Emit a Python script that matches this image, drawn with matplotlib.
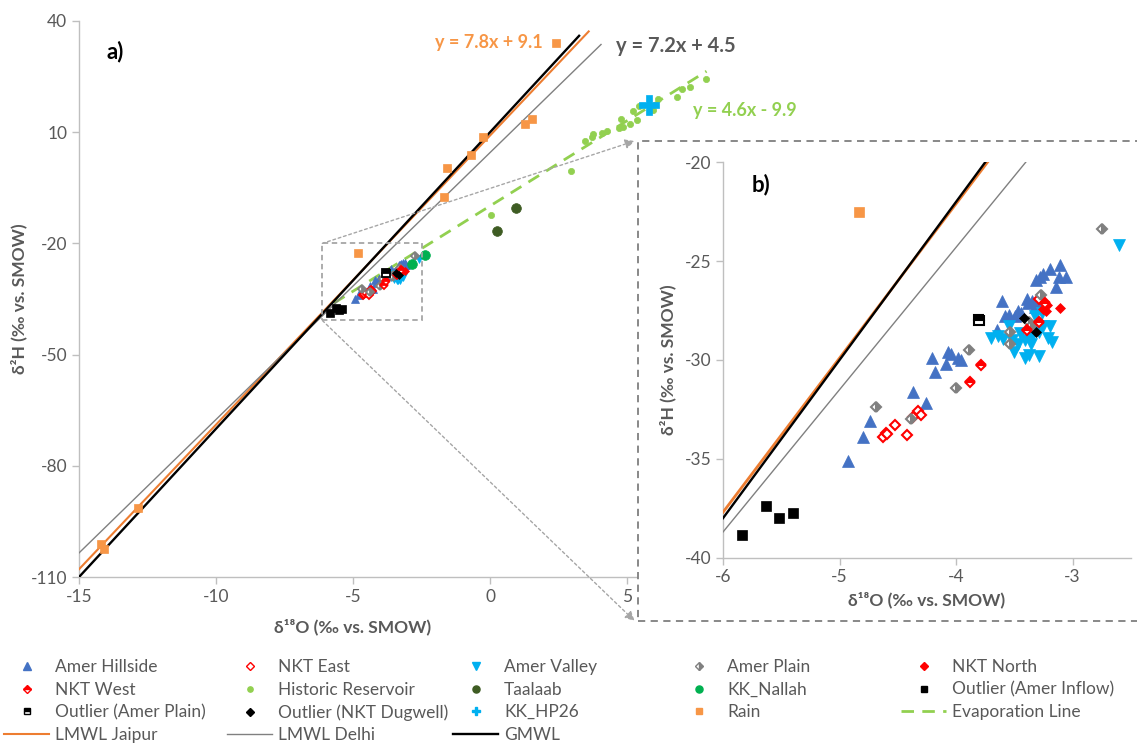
import numpy as np
import matplotlib.pyplot as plt
from matplotlib.lines import Line2D
from matplotlib.patches import Rectangle, ConnectionPatch

plt.rcParams['font.family'] = ['Lato', 'DejaVu Sans']
plt.rcParams['axes.unicode_minus'] = False

# --- data (d18O, d2H) ---
hill_x = [-4.93, -4.80, -4.74, -4.37, -4.26, -4.21, -4.18, -4.09, -4.07, -4.04, -3.98, -3.96,
          -3.61, -3.65, -3.58, -3.55, -3.47, -3.46, -3.39, -3.38, -3.35, -3.32, -3.29, -3.31,
          -3.28, -3.25, -3.19, -3.11, -3.12, -3.06, -3.14, -3.44, -3.49]
hill_y = [-35.1, -33.9, -33.1, -31.6, -32.2, -29.9, -30.6, -30.2, -29.6, -29.7, -29.9, -30.0,
          -27.0, -28.5, -27.8, -27.7, -27.5, -27.7, -26.9, -27.1, -27.0, -27.3, -27.1, -25.95,
          -25.8, -25.65, -25.4, -25.2, -25.8, -25.8, -26.3, -27.6, -27.8]

valley_x = [-2.60, -3.70, -3.64, -3.60, -3.55, -3.52, -3.50, -3.45, -3.41, -3.41, -3.37,
            -3.36, -3.29, -3.29, -3.32, -3.26, -3.25, -3.21, -3.18, -3.19, -3.35, -3.47]
valley_y = [-24.2, -28.9, -28.8, -28.95, -28.3, -29.0, -29.6, -28.65, -29.9, -29.0, -29.75,
            -29.2, -29.8, -28.6, -27.8, -27.6, -28.3, -28.9, -29.1, -28.3, -28.8, -29.2]

plain_x = [-2.75, -4.69, -4.39, -4.00, -3.89, -3.54, -3.54, -3.37, -3.36, -3.27]
plain_y = [-23.4, -32.4, -33.0, -31.4, -29.5, -28.6, -29.2, -28.1, -28.3, -26.7]

nkt_east_x = [-4.63, -4.60, -4.59, -4.52, -4.42, -4.33, -4.30, -4.37, -3.39, -3.29]
nkt_east_y = [-33.9, -33.7, -33.75, -33.3, -33.8, -32.6, -32.8, -32.9, -28.7, -26.9]

nkt_west_x = [-3.88, -3.79, -3.39, -3.29, -3.24]
nkt_west_y = [-31.1, -30.25, -28.5, -28.1, -27.1]

nkt_north_x = [-3.11, -3.25, -3.23, -3.22]
nkt_north_y = [-27.35, -27.4, -27.5, -27.2]

hist_x = [7.88, 7.30, 7.00, 6.81, 6.14, 5.96, 5.44, 5.23, 4.78, 5.35, 5.11, 4.87, 4.71,
          4.26, 4.07, 3.75, 3.71, 3.47, 2.94, 0.05]
hist_y = [24.4, 22.3, 21.6, 19.6, 18.9, 16.0, 17.1, 15.8, 13.5, 13.3, 12.2, 11.5, 11.1,
          10.4, 9.7, 9.5, 8.6, 7.7, -0.4, -12.3]

taalaab_x = [0.96, 0.27]
taalaab_y = [-10.4, -16.6]

nallah_x = [-2.37, -2.86]
nallah_y = [-23.1, -25.6]

inflow_x = [-5.84, -5.63, -5.52, -5.40]
inflow_y = [-38.85, -37.4, -38.0, -37.75]

out_plain_x = [-3.80]
out_plain_y = [-28.0]

dugwell_x = [-3.42, -3.31]
dugwell_y = [-27.9, -28.6]

hp26_x = [5.81]
hp26_y = [17.3]

rain_x = [2.40, 1.54, 1.29, -0.24, -0.70, -1.56, -1.68, -4.83, -12.85, -14.2, -14.1]
rain_y = [34.1, 13.6, 12.3, 8.6, 3.8, 0.35, -7.6, -22.5, -91.5, -101.0, -102.5]

# regression / meteoric lines: slope, intercept, x extent
evap_fit = (4.6, -9.9)
evap_x = np.array([-5.7, 7.9])
jaipur_fit = (7.8, 9.1)
jaipur_x = np.array([-15, 3.6])
delhi_fit = (7.2, 4.5)
delhi_x = np.array([-15, 4.05])
gmwl_fit = (8.0, 10.0)
gmwl_x = np.array([-15, 3.25])

GRAY = '#595959'
SPINE = '#BFBFBF'

series = [
    # label, x, y, marker, face, edge, fillstyle, alt, size main, size inset, in inset
    ('Amer Hillside', hill_x, hill_y, '^', '#4472C4', '#4472C4', 'full', None, 6, 8, True),
    ('NKT East', nkt_east_x, nkt_east_y, 'D', 'white', '#FF0000', 'full', None, 4.5, 5.5, True),
    ('Amer Valley', valley_x, valley_y, 'v', '#00B0F0', '#00B0F0', 'full', None, 6, 8, True),
    ('Amer Plain', plain_x, plain_y, 'D', '#808080', '#808080', 'right', 'white', 4.5, 5.5, True),
    ('NKT North', nkt_north_x, nkt_north_y, 'D', '#FF0000', '#FF0000', 'full', None, 4.5, 5.5, True),
    ('NKT West', nkt_west_x, nkt_west_y, 'D', '#FF0000', '#FF0000', 'top', 'white', 4.5, 5.5, True),
    ('Historic Reservoir', hist_x, hist_y, 'o', '#92D050', '#92D050', 'full', None, 4.5, 5, True),
    ('Taalaab', taalaab_x, taalaab_y, 'o', '#3E5C23', '#3E5C23', 'full', None, 7, 7, True),
    ('KK_Nallah', nallah_x, nallah_y, 'o', '#00B050', '#00B050', 'full', None, 7, 7, False),
    ('Outlier (Amer Inflow)', inflow_x, inflow_y, 's', 'black', 'black', 'full', None, 5.5, 6.5, True),
    ('Outlier (Amer Plain)', out_plain_x, out_plain_y, 's', 'black', 'black', 'top', 'white', 5.5, 6.5, True),
    ('Outlier (NKT Dugwell)', dugwell_x, dugwell_y, 'D', 'black', 'black', 'full', None, 4.5, 5.5, True),
    ('KK_HP26', hp26_x, hp26_y, 'P', '#00B0F0', '#00B0F0', 'full', None, 15, 15, True),
    ('Rain', rain_x, rain_y, 's', '#F79646', '#F79646', 'full', None, 5.5, 6.5, True),
]

fig = plt.figure(figsize=(11.37, 7.52), dpi=100)
ax = fig.add_axes([0.0695, 0.2327, 0.6025, 0.7394])


def style_axes(a):
    for s in ['top', 'right']:
        a.spines[s].set_visible(False)
    for s in ['left', 'bottom']:
        a.spines[s].set_color(SPINE)
        a.spines[s].set_linewidth(1.0)
    a.tick_params(colors=SPINE, labelcolor=GRAY, labelsize=12.5, direction='out', length=5, width=1)


handles = {}
for (lab, x, y, m, fc, ec, fs, alt, ms, ms2, ins) in series:
    kw = dict(ls='none', marker=m, markerfacecolor=fc, markeredgecolor=ec, fillstyle=fs,
              markeredgewidth=1.3 if fc == 'white' or fs != 'full' else 0.5)
    if alt:
        kw['markerfacecoloralt'] = alt
    h, = ax.plot(x, y, ms=ms, zorder=4, **kw)
    handles[lab] = h

# lines in the main panel
evap, = ax.plot(evap_x, evap_fit[0] * evap_x + evap_fit[1], color='#92D050', lw=2, ls=(0, (4.5, 3)), zorder=3)
jai, = ax.plot(jaipur_x, jaipur_fit[0] * jaipur_x + jaipur_fit[1], color='#ED7D31', lw=1.5, zorder=3)
dli, = ax.plot(delhi_x, delhi_fit[0] * delhi_x + delhi_fit[1], color='#808080', lw=1.0, zorder=3)
gm, = ax.plot(gmwl_x, gmwl_fit[0] * gmwl_x + gmwl_fit[1], color='black', lw=1.7, zorder=3)
handles['Evaporation Line'] = evap
handles['LMWL Jaipur'] = jai
handles['LMWL Delhi'] = dli
handles['GMWL'] = gm

ax.set_xlim(-15, 10)
ax.set_ylim(-110, 40)
ax.set_xticks([-15, -10, -5, 0, 5, 10])
ax.set_yticks([40, 10, -20, -50, -80, -110])
style_axes(ax)
ax.set_xlabel('δ¹⁸O (‰ vs. SMOW)', fontsize=12.5, fontweight='bold', color=GRAY, labelpad=6)
ax.xaxis.set_label_coords(0.40, -0.075)
ax.set_ylabel('δ²H (‰ vs. SMOW)', fontsize=12.5, fontweight='bold', color=GRAY)
ax.yaxis.set_label_coords(-0.075, 0.5)
ax.text(0.04, 0.965, 'a)', transform=ax.transAxes, fontsize=16, fontweight='bold', va='top')

ax.text(-2.0, 34.3, 'y = 7.8x + 9.1', color='#F79646', fontsize=13, fontweight='bold', va='center')
ax.text(4.6, 33.3, 'y = 7.2x + 4.5', color=GRAY, fontsize=14.5, fontweight='bold', va='center')
ax.text(7.4, 15.8, 'y = 4.6x - 9.9', color='#92D050', fontsize=13, fontweight='bold', va='center')

# inset limits and zoom box
in_xlim = (-6, -2.5)
in_ylim = (-40, -20)
box = Rectangle((in_xlim[0] - 0.12, in_ylim[0] - 0.8), in_xlim[1] - in_xlim[0] + 0.12,
                in_ylim[1] - in_ylim[0] + 0.8, fill=False, ec='#A6A6A6', ls=(0, (3, 2)), lw=1.3, zorder=5)
ax.add_patch(box)

# white frame holding panel b
frame_l, frame_b, frame_t = 0.5612, 0.1742, 0.8125
frame = Rectangle((frame_l, frame_b), 1.0, frame_t - frame_b, transform=fig.transFigure,
                  fc='white', ec='#7F7F7F', ls=(0, (4, 3)), lw=1.3, zorder=1)
fig.add_artist(frame)

for (xa, ya), yb in [((in_xlim[0] - 0.12, in_ylim[1]), frame_t), ((in_xlim[0] - 0.12, in_ylim[0] - 0.8), frame_b)]:
    con = ConnectionPatch(xyA=(xa, ya), coordsA=ax.transData, xyB=(frame_l - 0.003, yb),
                          coordsB=fig.transFigure, arrowstyle='-|>', mutation_scale=14,
                          color='#A6A6A6', ls=(0, (2, 2)), lw=1.0, zorder=1.5)
    fig.add_artist(con)

axb = fig.add_axes([0.6359, 0.2584, 0.3587, 0.5258], zorder=2)
axb.patch.set_alpha(0)
for (lab, x, y, m, fc, ec, fs, alt, ms, ms2, ins) in series:
    if not ins:
        continue
    kw = dict(ls='none', marker=m, markerfacecolor=fc, markeredgecolor=ec, fillstyle=fs,
              markeredgewidth=1.5 if fc == 'white' or fs != 'full' else 0.5)
    if alt:
        kw['markerfacecoloralt'] = alt
    axb.plot(x, y, ms=ms2, zorder=4, **kw)
bx = np.array([-6.0, -2.0])
axb.plot(bx, jaipur_fit[0] * bx + jaipur_fit[1], color='#ED7D31', lw=2, zorder=3)
axb.plot(bx, gmwl_fit[0] * bx + gmwl_fit[1], color='black', lw=1.7, zorder=3)
axb.plot(bx, delhi_fit[0] * bx + delhi_fit[1], color='#808080', lw=1.0, zorder=3)
axb.set_xlim(*in_xlim)
axb.set_ylim(*in_ylim)
axb.set_xticks([-6, -5, -4, -3])
axb.set_yticks([-20, -25, -30, -35, -40])
style_axes(axb)
axb.set_xlabel('δ¹⁸O (‰ vs. SMOW)', fontsize=12.5, fontweight='bold', color=GRAY, labelpad=4)
axb.set_ylabel('δ²H (‰ vs. SMOW)', fontsize=12.5, fontweight='bold', color=GRAY, labelpad=6)
axb.text(0.07, 0.97, 'b)', transform=axb.transAxes, fontsize=16, fontweight='bold', va='top')

# legend: five columns placed like the original
cols = [['Amer Hillside', 'NKT West', 'Outlier (Amer Plain)', 'LMWL Jaipur'],
        ['NKT East', 'Historic Reservoir', 'Outlier (NKT Dugwell)', 'LMWL Delhi'],
        ['Amer Valley', 'Taalaab', 'KK_HP26', 'GMWL'],
        ['Amer Plain', 'KK_Nallah', 'Rain'],
        ['NKT North', 'Outlier (Amer Inflow)', 'Evaporation Line']]
col_left = [4, 227, 453, 676, 901]
for labs, xl in zip(cols, col_left):
    hs = []
    for lab in labs:
        h = handles[lab]
        if h.get_marker() not in (None, 'None', ''):
            h2 = Line2D([], [], ls='none', marker=h.get_marker(), markerfacecolor=h.get_markerfacecolor(),
                        markeredgecolor=h.get_markeredgecolor(), fillstyle=h.get_fillstyle(),
                        markerfacecoloralt=h.get_markerfacecoloralt(), markeredgewidth=1.0,
                        ms=min(h.get_markersize(), 6) * 0.85)
        else:
            h2 = h
        hs.append(h2)
    fig.legend(hs, labs, loc='upper left', bbox_to_anchor=(xl / 1137, 1 - 659 / 752), frameon=False,
               fontsize=12.5, labelcolor=GRAY, handlelength=2.6, handletextpad=0.35,
               labelspacing=0.38, borderpad=0, borderaxespad=0)

fig.savefig('out.png', dpi=100)
